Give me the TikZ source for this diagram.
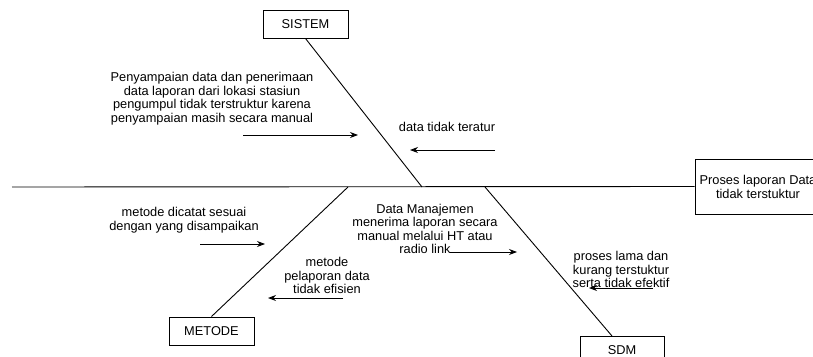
\documentclass[tikz,border=0pt]{standalone}
\usepackage{fontspec}
\setmainfont{Liberation Sans}
\usetikzlibrary{arrows.meta}
\begin{document}
\begin{tikzpicture}[x=1pt,y=-1pt,
  box/.style={draw, line width=1pt, rectangle, minimum width=85pt, minimum height=28pt, inner sep=0pt, font=\fontsize{12.8}{13.5}\selectfont},
  bone/.style={line width=0.9pt},
  lbl/.style={align=center, inner sep=0pt, font=\fontsize{12.8}{13.5}\selectfont},
  arr/.style={line width=0.9pt, -{Stealth[length=8pt,width=6pt]}}]
\useasboundingbox (0,0) rectangle (813,356);
\begin{scope}
\clip (0,0) rectangle (813,356);
% nodes
\node[box] (sistem) at (305.5,24) {SISTEM};
\node[box] (metode) at (211.5,331) {METODE};
\node[box, minimum width=84pt] (sdm) at (622,350) {SDM};
\node[box, minimum width=170pt, minimum height=55pt] (effect) at (780,186.5) {};
\node[lbl] (effecttext) at (758,187) {Proses laporan Data\\tidak terstuktur};
% spine and bones
\coordinate (tail) at (12,187);
\coordinate (jsis) at (422,187);
\coordinate (jmet) at (348,187);
\coordinate (jsdm) at (485,187);
\coordinate (sdmtop) at (612,336);
\draw[bone] (tail) -- (effect.west);
\draw[bone] (sistem.south) -- (jsis);
\draw[bone] (metode.north) -- (jmet);
\draw[bone] (sdmtop) -- (jsdm);
% labels
\node[lbl] (l1) at (212,98.5) {Penyampaian data dan penerimaan\\data laporan dari lokasi stasiun\\pengumpul tidak terstruktur karena\\penyampaian masih secara manual};
\node[lbl] (l2) at (447,127) {data tidak teratur};
\node[lbl] (l3) at (184,220) {metode dicatat sesuai\\dengan yang disampaikan};
\node[lbl] (l4) at (327,275.5) {metode\\pelaporan data\\tidak efisien};
\node[lbl] (l5) at (425,229) {Data Manajemen\\menerima laporan secara\\manual melalui HT atau\\radio link};
\node[lbl] (l6) at (621,269.5) {proses lama dan\\kurang terstuktur\\serta tidak efektif};
% arrows
\coordinate (a1s) at (243,135); \coordinate (a1e) at (358,135);
\coordinate (a2s) at (495,150); \coordinate (a2e) at (410,150);
\coordinate (a3s) at (200,244); \coordinate (a3e) at (265,244);
\coordinate (a4s) at (343,298); \coordinate (a4e) at (268,298);
\coordinate (a5s) at (450,252); \coordinate (a5e) at (517,252);
\coordinate (a6s) at (653,288); \coordinate (a6e) at (589,288);
\draw[arr] (a1s) -- (a1e);
\draw[arr] (a2s) -- (a2e);
\draw[arr] (a3s) -- (a3e);
\draw[arr] (a4s) -- (a4e);
\draw[arr] (a5s) -- (a5e);
\draw[arr] (a6s) -- (a6e);
\end{scope}
\end{tikzpicture}
\end{document}
